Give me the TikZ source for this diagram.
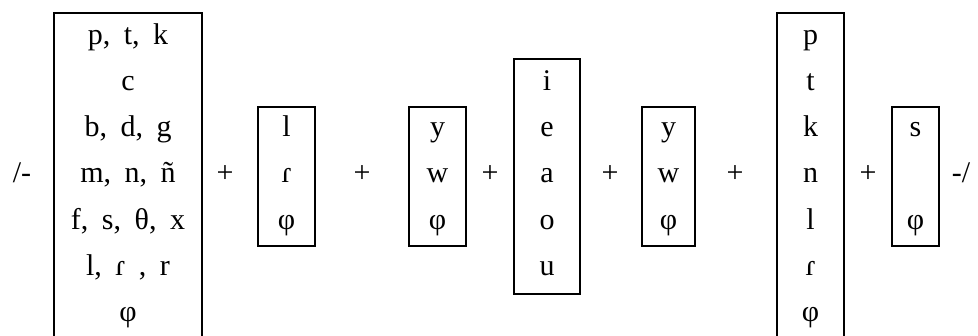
\documentclass[tikz,border=0pt]{standalone}
\usepackage{fontspec}
\setmainfont{Liberation Serif}
% segment font: 30pt serif with widened word spaces
\newcommand\segfont{\fontsize{30}{36}\selectfont\spaceskip 13.5pt\relax}
\begin{document}
\begin{tikzpicture}[x=1pt,y=-1pt,
  slot/.style={draw, line width=2.2pt, inner sep=0pt},
  seg/.style={anchor=base, inner sep=0pt, font=\segfont},
]
\useasboundingbox (0,0) rectangle (978,336);
% row baselines: 183 + 46.3*(i-4), i = 1..7
\def\rowy#1{183+46.3*(#1-4)}

% slot boxes (the two tall ones run off the bottom edge)
\node[slot, minimum width=148pt, minimum height=332pt] (c1) at (128,178.7) {};
\node[slot, minimum width=57pt,  minimum height=139pt] (c2) at (286.5,176.5) {};
\node[slot, minimum width=57pt,  minimum height=139pt] (c3) at (437.5,176.5) {};
\node[slot, minimum width=66pt,  minimum height=235pt] (c4) at (547,176.5) {};
\node[slot, minimum width=53pt,  minimum height=139pt] (c5) at (668.5,176.5) {};
\node[slot, minimum width=67pt,  minimum height=332pt] (c6) at (810.5,178.7) {};
\node[slot, minimum width=47pt,  minimum height=139pt] (c7) at (915.5,176.5) {};

% onsets
\foreach \t [count=\i] in {{p, t, k},c,{b, d, g},{m, n, ñ},{f, s, θ, x},{l, ɾ , r},φ}
  \node[seg] (c1-\i) at (128,{\rowy{\i}}) {\t};
% liquids
\foreach \t [count=\i from 3] in {l,ɾ,φ}
  \node[seg] (c2-\i) at (286.5,{\rowy{\i}}) {\t};
% glides before the vowel
\foreach \t [count=\i from 3] in {y,w,φ}
  \node[seg] (c3-\i) at (437.5,{\rowy{\i}}) {\t};
% vowels
\foreach \t [count=\i from 2] in {i,e,a,o,u}
  \node[seg] (c4-\i) at (547,{\rowy{\i}}) {\t};
% glides after the vowel
\foreach \t [count=\i from 3] in {y,w,φ}
  \node[seg] (c5-\i) at (668.5,{\rowy{\i}}) {\t};
% codas
\foreach \t [count=\i] in {p,t,k,n,l,ɾ,φ}
  \node[seg] (c6-\i) at (810.5,{\rowy{\i}}) {\t};
% final s
\node[seg] (c7-3) at (915.5,{\rowy{3}}) {s};
\node[seg] (c7-5) at (915.5,{\rowy{5}}) {φ};

% delimiters and plus signs
\node[seg] (open)  at (22,{\rowy{4}}) {/-};
\node[seg] (close) at (961,{\rowy{4}}) {-/};
\foreach \x [count=\j] in {225,362,490,610,735,868}
  \node[seg] (plus\j) at (\x,{\rowy{4}}) {+};
\end{tikzpicture}
\end{document}
